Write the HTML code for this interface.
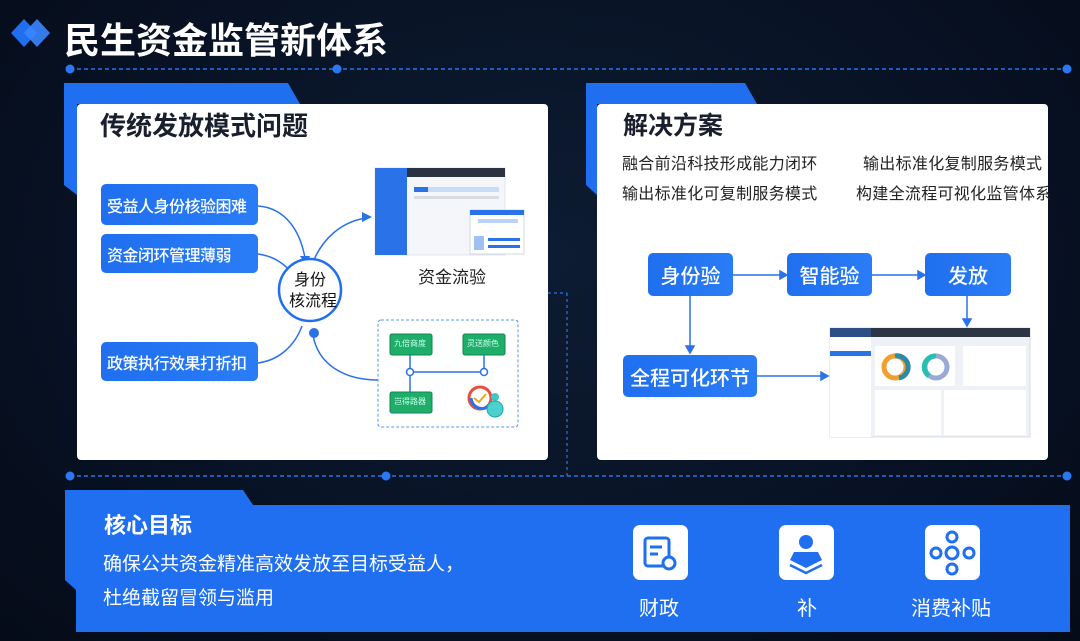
<!DOCTYPE html>
<html><head><meta charset="utf-8"><style>
*{margin:0;padding:0;box-sizing:border-box}
body{width:1080px;height:641px;overflow:hidden;background:radial-gradient(ellipse at 50% 40%,#0d1c33 0%,#081224 60%,#050b18 100%);font-family:"Liberation Sans","Noto Sans CJK SC",sans-serif;position:relative}
.a{position:absolute}
.card{background:#fff;border-radius:4px}
.box{position:absolute;background:linear-gradient(90deg,#1f6ff0,#2a7cf6);color:#fff;border-radius:5px;display:flex;align-items:center;font-weight:500;white-space:nowrap}
.t{position:absolute;white-space:nowrap}
</style></head><body>
<svg class="a" style="left:0;top:0" width="1080" height="641">
  <path d="M11 33 L24 19 L37 33 L24 47Z" fill="#1f6ff0"/>
  <path d="M24 33 L37 19 L50 33 L37 47Z" fill="#3a86ff" opacity=".9"/>
  <line x1="70" y1="69" x2="1067" y2="69" stroke="#2a72e8" stroke-width="1.5" stroke-dasharray="4 3"/>
  <circle cx="70" cy="69" r="4.5" fill="#2a78f4"/><circle cx="337" cy="69" r="4.5" fill="#2a78f4"/><circle cx="1067" cy="69" r="4.5" fill="#2a78f4"/>
  <line x1="70" y1="476" x2="1067" y2="476" stroke="#2a72e8" stroke-width="1.5" stroke-dasharray="4 3"/>
  <circle cx="70" cy="476" r="4.5" fill="#2a78f4"/><circle cx="386" cy="476" r="4.5" fill="#2a78f4"/><circle cx="1067" cy="476" r="4.5" fill="#2a78f4"/>
  <line x1="567" y1="293" x2="567" y2="476" stroke="#2a72e8" stroke-width="1.2" stroke-dasharray="3 3"/>
  <line x1="548" y1="293" x2="567" y2="293" stroke="#2a72e8" stroke-width="1.2" stroke-dasharray="3 3"/>
  <path d="M64 83 L288 83 L300 104 L77 104 L77 195 L64 185Z" fill="#1f6ff0"/>
  <path d="M586 83 L745 83 L757 104 L597 104 L597 195 L586 185Z" fill="#1f6ff0"/>
  <path d="M65 490 L243 490 L253 505 L1070 505 L1070 632 L76 632 L76 590 L65 580Z" fill="#1f6ff0"/>
</svg>
<div class="t" style="left:64px;top:12px;font-size:36px;font-weight:bold;color:#fff">民生资金监管新体系</div>

<div class="a card" style="left:77px;top:104px;width:471px;height:356px"></div>
<div class="t" style="left:100px;top:106px;font-size:26px;font-weight:bold;color:#1a1f2e">传统发放模式问题</div>
<div class="box" style="left:101px;top:184px;width:157px;height:41px;font-size:16px;letter-spacing:-0.5px;padding-left:6px">受益人身份核验困难</div>
<div class="box" style="left:101px;top:234px;width:157px;height:39px;font-size:16px;letter-spacing:-0.5px;padding-left:6px">资金闭环管理薄弱</div>
<div class="box" style="left:101px;top:342px;width:157px;height:39px;font-size:16px;letter-spacing:-0.5px;padding-left:6px">政策执行效果打折扣</div>
<svg class="a" style="left:0;top:0" width="1080" height="641">
  <g fill="none" stroke="#2a72e8" stroke-width="1.5">
    <path d="M258 206 C285 208 300 230 305 258"/>
    <path d="M258 254 C272 256 282 262 289 270"/>
    <path d="M258 363 C280 360 295 345 302 326"/>
    <path d="M313 262 C322 240 340 222 366 218"/>
    <path d="M378 380 C345 380 318 365 313 335"/>
  </g>
  <path d="M300 256 L310 256 L306 266Z" fill="#2a72e8"/>
  <path d="M362 212 L372 217 L362 222Z" fill="#2a72e8"/>
  <circle cx="314" cy="333" r="5" fill="#2a72e8"/>
  <circle cx="310" cy="290" r="31" fill="#fff" stroke="#1f6ff0" stroke-width="2.5"/>
  <rect x="375" y="168" width="130" height="87" fill="#f4f6fa" stroke="#dfe4ec"/>
  <rect x="375" y="168" width="32" height="87" fill="#2a72e8"/>
  <rect x="407" y="168" width="98" height="9" fill="#2c3340"/>
  <rect x="414" y="187" width="85" height="5" fill="#c9dcf7"/><rect x="414" y="187" width="14" height="5" fill="#2a72e8"/>
  <rect x="414" y="196" width="85" height="3" fill="#d8dde4"/>
  <rect x="470" y="210" width="54" height="44" fill="#fff" stroke="#cfd8e6"/>
  <rect x="470" y="210" width="54" height="5" fill="#2a72e8"/>
  <rect x="478" y="219" width="40" height="4" fill="#bcd3f6"/>
  <rect x="474" y="236" width="10" height="14" fill="#9fc0f2"/>
  <rect x="488" y="238" width="32" height="3" fill="#2a72e8"/><rect x="488" y="245" width="32" height="3" fill="#2a72e8"/>
  <rect x="378" y="320" width="140" height="107" fill="#fff" stroke="#5b94ef" stroke-dasharray="3 2" rx="3"/>
  <g stroke="#2a72e8" stroke-width="1.5" fill="#fff">
    <line x1="410" y1="355" x2="410" y2="392"/><line x1="410" y1="372" x2="484" y2="372"/><line x1="484" y1="355" x2="484" y2="372"/>
    <circle cx="410" cy="372" r="3.5"/><circle cx="484" cy="372" r="3.5"/>
  </g>
  <rect x="390" y="334" width="42" height="21" rx="2" fill="#1fae6a" stroke="#13864f"/>
  <rect x="463" y="334" width="42" height="21" rx="2" fill="#1fae6a" stroke="#13864f"/>
  <rect x="390" y="392" width="42" height="21" rx="2" fill="#1fae6a" stroke="#13864f"/>
  <circle cx="480" cy="398" r="11" fill="none" stroke="#e84e3c" stroke-width="3"/>
  <path d="M471 398 A11 11 0 0 0 490 405" fill="none" stroke="#2a72e8" stroke-width="3"/>
  <path d="M474 398 L479 402 L486 394" fill="none" stroke="#f2a51d" stroke-width="2"/>
  <circle cx="495" cy="397" r="4" fill="#3cc7c8"/><circle cx="495" cy="409" r="8" fill="#4ed0d0" stroke="#1aa"/>
</svg>
<div class="t" style="left:289px;top:270px;font-size:16px;color:#111;width:42px;text-align:center;line-height:21px">身份<br>核流程</div>
<div class="t" style="left:418px;top:263px;font-size:17px;color:#222">资金流验</div>
<div class="t" style="left:394px;top:338px;font-size:8px;color:#cfe">九倍商度</div>
<div class="t" style="left:467px;top:338px;font-size:8px;color:#cfe">灵送颜色</div>
<div class="t" style="left:394px;top:396px;font-size:8px;color:#cfe">岂得路器</div>

<div class="a card" style="left:597px;top:104px;width:451px;height:356px"></div>
<div class="t" style="left:623px;top:106px;font-size:25px;font-weight:bold;color:#1a1f2e">解决方案</div>
<div class="t" style="left:622px;top:150px;font-size:16px;letter-spacing:0.3px;color:#222;line-height:30px">融合前沿科技形成能力闭环<br>输出标准化可复制服务模式</div>
<div class="t" style="left:863px;top:150px;font-size:16px;letter-spacing:0.3px;color:#222;line-height:30px">输出标准化复制服务模式</div>
<div class="t" style="left:856px;top:180px;font-size:16px;letter-spacing:0.3px;color:#222;line-height:30px">构建全流程可视化监管体系</div>
<div class="box" style="left:648px;top:253px;width:85px;height:43px;font-size:20px;justify-content:center">身份验</div>
<div class="box" style="left:787px;top:253px;width:85px;height:43px;font-size:20px;justify-content:center">智能验</div>
<div class="box" style="left:925px;top:253px;width:86px;height:43px;font-size:20px;justify-content:center">发放</div>
<div class="box" style="left:623px;top:355px;width:134px;height:42px;font-size:20px;justify-content:center">全程可化环节</div>
<svg class="a" style="left:0;top:0" width="1080" height="641">
  <g stroke="#2a72e8" stroke-width="1.5" fill="#2a72e8">
    <line x1="733" y1="275" x2="782" y2="275"/><path d="M787 275 L780 271 L780 279Z"/>
    <line x1="872" y1="275" x2="920" y2="275"/><path d="M925 275 L918 271 L918 279Z"/>
    <line x1="690" y1="296" x2="690" y2="348"/><path d="M690 353 L686 346 L694 346Z"/>
    <line x1="967" y1="296" x2="967" y2="320"/><path d="M967 326 L963 319 L971 319Z"/>
    <line x1="757" y1="376" x2="822" y2="376"/><path d="M828 376 L821 372 L821 380Z"/>
  </g>
  <rect x="830" y="328" width="200" height="109" fill="#eef2f7" stroke="#d5dbe4"/>
  <rect x="830" y="328" width="200" height="9" fill="#2c3544"/>
  <rect x="830" y="328" width="41" height="9" fill="#2d4f86"/>
  <rect x="830" y="337" width="41" height="100" fill="#fff"/>
  <rect x="830" y="351" width="41" height="5" fill="#2a72e8"/>
  <rect x="875" y="346" width="80" height="40" fill="#fff"/>
  <rect x="963" y="346" width="63" height="40" fill="#fff"/>
  <rect x="875" y="390" width="66" height="45" fill="#fff"/>
  <rect x="944" y="390" width="82" height="45" fill="#fff"/>
  <circle cx="895" cy="367" r="11" fill="none" stroke="#f0a02e" stroke-width="5"/>
  <path d="M895 356 A11 11 0 0 1 899 378" fill="none" stroke="#2a8aa8" stroke-width="5"/>
  <circle cx="936" cy="367" r="11" fill="none" stroke="#9aaad6" stroke-width="5"/>
  <path d="M936 356 A11 11 0 0 0 929 376" fill="none" stroke="#26c0b0" stroke-width="5"/>
</svg>

<div class="t" style="left:104px;top:508px;font-size:22px;font-weight:bold;color:#fff">核心目标</div>
<div class="t" style="left:103px;top:548px;font-size:19px;color:#fff;line-height:34px">确保公共资金精准高效发放至目标受益人，<br>杜绝截留冒领与滥用</div>
<div class="a" style="left:633px;top:525px;width:55px;height:55px;background:#fff;border-radius:7px"></div>
<div class="a" style="left:779px;top:525px;width:55px;height:55px;background:#fff;border-radius:7px"></div>
<div class="a" style="left:925px;top:525px;width:55px;height:55px;background:#fff;border-radius:7px"></div>
<svg class="a" style="left:0;top:0" width="1080" height="641">
  <g fill="none" stroke="#1f6ff0" stroke-width="3">
    <rect x="645" y="538" width="24" height="28" rx="3"/><line x1="650" y1="547" x2="662" y2="547"/><line x1="650" y1="554" x2="658" y2="554"/>
    <circle cx="669" cy="563" r="6" fill="#fff"/>
    <circle cx="936" cy="553" r="5"/><circle cx="969" cy="553" r="5"/><circle cx="952" cy="537" r="5"/><circle cx="952" cy="569" r="5"/><circle cx="952" cy="553" r="6"/>
  </g>
  <circle cx="806" cy="542" r="7" fill="#1f6ff0"/>
  <path d="M794 552 L818 552 L822 560 L806 568 L790 560Z" fill="#1f6ff0"/>
  <path d="M790 565 L806 573 L822 565" fill="none" stroke="#1f6ff0" stroke-width="2.5"/>
</svg>
<div class="t" style="left:639px;top:592px;font-size:20px;color:#fff">财政</div>
<div class="t" style="left:797px;top:592px;font-size:20px;color:#fff">补</div>
<div class="t" style="left:911px;top:592px;font-size:20px;color:#fff">消费补贴</div>
</body></html>
